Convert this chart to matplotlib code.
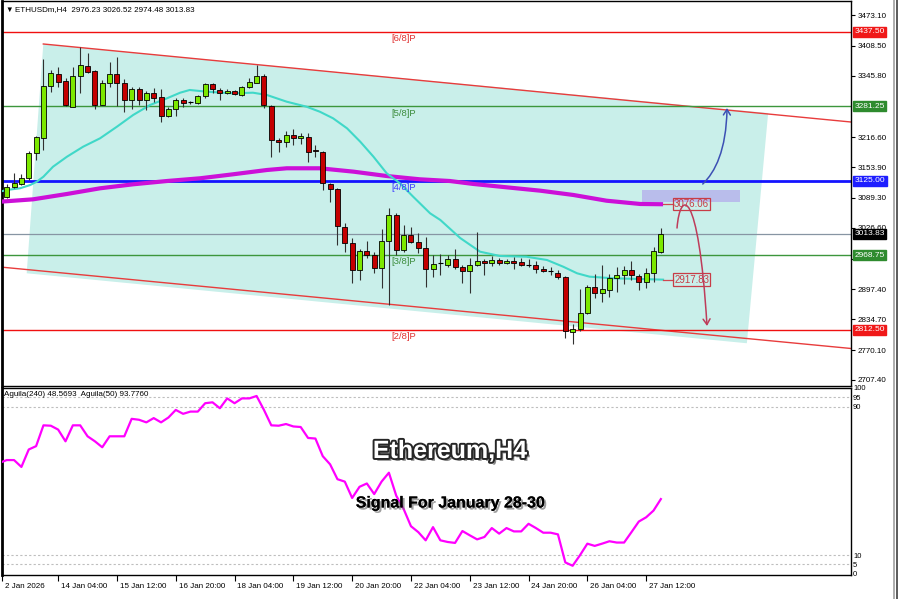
import numpy as np
import matplotlib.pyplot as plt
import matplotlib.patheffects as pe
from matplotlib.path import Path
from matplotlib.patches import Polygon, Rectangle, FancyArrowPatch
from matplotlib.transforms import blended_transform_factory, ScaledTranslation

plt.rcParams['font.family'] = ['Liberation Sans', 'DejaVu Sans']

# ---- H4 candles (ETHUSDm) ----
opens = [3091.9, 3112.9, 3118.6, 3130.5, 3183.0, 3215.7, 3324.2, 3349.3, 3334.6, 3280.7,
         3345.1, 3366.1, 3355.0, 3284.9, 3331.1, 3349.3, 3329.8, 3294.8, 3317.9, 3294.8,
         3308.8, 3300.4, 3261.2, 3275.2, 3294.8, 3290.0, 3289.1, 3303.2, 3328.4, 3315.8,
         3308.8, 3314.3, 3305.3, 3321.4, 3331.1, 3345.1, 3282.8, 3210.9, 3206.0, 3221.4,
         3214.4, 3217.8, 3189.9, 3186.3, 3118.6, 3107.5, 3027.7, 2994.2, 2938.1, 2977.4,
         2969.6, 2941.7, 2999.6, 3053.5, 2980.1, 3011.6, 2997.5, 2983.7, 2939.6, 2952.2,
         2948.6, 2961.2, 2945.1, 2936.7, 2948.6, 2957.6, 2952.2, 2959.1, 2953.5, 2957.0,
         2954.3, 2949.3, 2948.6, 2940.2, 2936.0, 2932.5, 2924.1, 2808.7, 2813.7, 2848.6,
         2901.8, 2889.2, 2896.2, 2920.7, 2927.6, 2938.1, 2925.6, 2913.6, 2932.5, 2976.23]
closes = [3112.9, 3120.0, 3130.5, 3183.0, 3216.5, 3324.2, 3350.8, 3333.2, 3284.3, 3345.1,
          3368.2, 3354.1, 3284.9, 3331.1, 3349.3, 3329.8, 3294.8, 3317.9, 3294.8, 3308.8,
          3299.6, 3261.2, 3275.2, 3294.8, 3287.8, 3290.0, 3303.2, 3327.7, 3317.2, 3308.8,
          3314.3, 3307.4, 3322.7, 3331.9, 3345.8, 3284.3, 3210.9, 3206.0, 3221.4, 3214.4,
          3219.2, 3186.3, 3188.4, 3120.0, 3107.5, 3030.5, 2994.2, 2938.1, 2978.6, 2969.0,
          2941.7, 2999.6, 3053.5, 2980.1, 3011.6, 2997.5, 2983.7, 2939.6, 2950.7, 2952.2,
          2961.2, 2945.1, 2936.7, 2948.6, 2957.6, 2952.2, 2959.1, 2952.2, 2957.6, 2952.2,
          2948.6, 2949.3, 2939.6, 2936.7, 2936.0, 2924.1, 2810.8, 2813.7, 2848.6, 2901.8,
          2889.2, 2897.6, 2920.7, 2927.6, 2938.1, 2927.6, 2913.6, 2932.5, 2978.6, 3013.83]
highs = [3118.6, 3142.3, 3138.9, 3188.4, 3219.2, 3380.2, 3357.7, 3363.4, 3340.3, 3364.6,
         3406.6, 3394.0, 3357.7, 3336.7, 3375.1, 3384.4, 3338.2, 3322.7, 3322.7, 3314.3,
         3319.3, 3317.2, 3279.4, 3298.3, 3298.3, 3293.3, 3305.3, 3329.8, 3329.8, 3319.3,
         3317.2, 3315.8, 3324.2, 3340.3, 3368.2, 3348.7, 3284.3, 3214.4, 3230.4, 3233.3,
         3226.2, 3224.9, 3200.4, 3188.4, 3121.3, 3109.5, 3037.4, 3004.6, 2981.6, 2999.6,
         2976.5, 3023.5, 3067.6, 3057.1, 3032.5, 3029.0, 3016.4, 3008.0, 2969.6, 2971.7,
         2969.6, 2981.6, 2948.6, 2962.7, 3017.2, 2960.5, 2967.5, 2962.7, 2960.5, 2964.8,
         2962.7, 2960.5, 2957.0, 2946.5, 2945.1, 2938.1, 2925.6, 2824.8, 2897.6, 2906.7,
         2929.7, 2948.6, 2929.7, 2943.8, 2946.5, 2957.6, 2929.7, 2941.7, 2985.8, 3026.52]
lows = [3089.2, 3109.5, 3116.4, 3127.0, 3168.9, 3189.9, 3312.2, 3321.4, 3282.2, 3279.4,
        3310.1, 3350.8, 3275.2, 3284.3, 3322.7, 3282.2, 3270.2, 3275.2, 3284.3, 3273.8,
        3291.2, 3249.2, 3258.5, 3261.2, 3279.4, 3286.4, 3286.4, 3298.3, 3310.1, 3294.8,
        3306.7, 3305.3, 3303.2, 3319.3, 3329.8, 3277.4, 3175.8, 3186.3, 3196.8, 3200.4,
        3202.5, 3165.4, 3174.6, 3106.0, 3081.4, 2990.6, 2976.5, 2910.2, 2917.2, 2962.7,
        2932.5, 2899.7, 2864.7, 2969.6, 2976.5, 2994.2, 2974.4, 2901.8, 2922.8, 2927.6,
        2943.8, 2939.6, 2910.2, 2889.2, 2946.5, 2927.6, 2946.5, 2948.6, 2950.7, 2939.6,
        2946.5, 2945.1, 2931.2, 2934.6, 2927.6, 2918.6, 2794.8, 2782.9, 2810.8, 2845.8,
        2878.8, 2871.6, 2882.1, 2892.6, 2908.8, 2917.2, 2896.2, 2899.7, 2913.6, 2974.48]

# moving averages (bar index, price)
ma_fast_x = [-0.9, 0, 1.8, 3.2, 4.1, 5.0, 6.3, 8.2, 10.4, 12.7, 15.0, 17.2, 19.5, 21.8, 23.6,
             24.9, 27.2, 30.8, 33.5, 35.4, 38.1, 40.8, 42.6, 44.4, 46.3, 48.1, 49.9, 51.7,
             53.5, 55.3, 57.6, 59.0, 61.7, 64.4, 67.1, 70.7, 73.5, 75.7, 77.6, 79.3, 82.5,
             86.2, 89.3]
ma_fast = [3102.5, 3106.0, 3109.5, 3116.4, 3123.4, 3133.9, 3154.8, 3175.8, 3196.8, 3214.4,
           3238.8, 3263.3, 3284.3, 3298.3, 3310.1, 3315.8, 3312.2, 3308.8, 3310.1, 3305.3,
           3291.2, 3280.7, 3270.2, 3256.4, 3235.4, 3207.3, 3175.8, 3141.0, 3120.0, 3091.9,
           3057.1, 3043.0, 3005.2, 2976.5, 2967.5, 2966.0, 2959.1, 2945.1, 2931.2, 2924.1,
           2920.7, 2919.2, 2917.83]
ma_slow_x = [-0.9, 3.6, 8.2, 12.7, 17.2, 21.8, 26.3, 30.8, 35.4, 38.1, 42.6, 47.2, 51.7,
             56.2, 60.3, 63.5, 68.0, 72.6, 77.1, 81.6, 86.2, 89.3]
ma_slow = [3081.4, 3086.4, 3097.6, 3109.5, 3117.9, 3124.8, 3130.5, 3138.9, 3147.9, 3151.5,
           3151.5, 3144.4, 3135.3, 3128.4, 3124.8, 3118.6, 3111.6, 3104.5, 3095.5, 3083.5,
           3076.6, 3076.06]

# Murrey levels
levels = [3437.50, 3281.25, 3125.00, 2968.75, 2812.50]
level_names = ['[6/8]P', '[5/8]P', '[4/8]P', '[3/8]P', '[2/8]P']
last_price = 3013.83
price_ticks = [3473.10, 3408.50, 3345.80, 3216.60, 3153.90, 3089.30, 3026.60, 2962.00,
               2897.40, 2834.70, 2770.10, 2707.40]

# Aguila oscillator
aguila_x = [-0.9] + list(range(90))
aguila = [59.8,
          61.2, 61.2, 57.5, 66.9, 68.7, 79.9, 79.7, 77.6, 71.3, 79.9,
          79.9, 74.0, 71.3, 68.1, 74.0, 74.0, 74.0, 83.4, 82.9, 81.5,
          83.8, 81.5, 84.1, 88.2, 86.1, 87.3, 87.3, 91.8, 92.3, 89.1,
          94.4, 91.8, 94.4, 94.4, 95.7, 88.2, 79.9, 79.7, 80.6, 79.3,
          79.0, 73.1, 72.8, 63.3, 58.9, 50.9, 49.6, 40.8, 46.8, 48.6,
          42.9, 49.6, 54.4, 42.0, 34.9, 25.6, 22.4, 18.0, 25.1, 18.0,
          17.1, 16.6, 23.0, 20.7, 18.5, 19.8, 24.6, 21.6, 24.6, 22.8,
          22.8, 26.9, 24.6, 22.1, 22.1, 21.2, 6.1, 4.3, 10.0, 16.2,
          15.0, 16.2, 17.5, 16.8, 16.8, 22.4, 28.1, 30.4, 34.0, 40.2]
osc_levels = [95, 90, 10, 5]

date_pos = [-0.64, 7, 15, 23, 31, 39, 47, 55, 63, 71, 79, 87]
date_labels = ['2 Jan 2026', '14 Jan 04:00', '15 Jan 12:00', '16 Jan 20:00', '18 Jan 04:00',
               '19 Jan 12:00', '20 Jan 20:00', '22 Jan 04:00', '23 Jan 12:00', '24 Jan 20:00',
               '26 Jan 04:00', '27 Jan 12:00']

W, H = 900, 599
fig = plt.figure(figsize=(9, 5.99), dpi=100)
fig.patch.set_facecolor('white')


def box(x0, y0, x1, y1):
    return [x0 / W, 1 - y1 / H, (x1 - x0) / W, (y1 - y0) / H]


ax = fig.add_axes(box(2, 1, 851, 386))
ax2 = fig.add_axes(box(2, 388, 851, 575), sharex=ax)
ax.set_xlim(-0.64, 114.87)
ax.set_ylim(2694.7, 3502.5)
ax2.set_ylim(-0.67, 99.07)

for a in (ax, ax2):
    for s in a.spines.values():
        s.set_color('black')
        s.set_linewidth(1.0)
    a.spines['left'].set_linewidth(2.0)

# channel shading + channel lines
ax.add_patch(Polygon([(4.98, 3412.3), (103.6, 3267.5), (100.7, 2784.4), (2.72, 2931.2)],
                     closed=True, fc='#C9EFEA', ec='none', zorder=1))
ax.plot([4.98, 114.87], [3412.3, 3248.6], color='#E83C3C', lw=1, zorder=2)
ax.plot([-0.9, 114.87], [2944.4, 2773.4], color='#E83C3C', lw=1, zorder=2)

# murrey lines
line_cols = ['#F01010', '#3C963C', '#1414FF', '#3C963C', '#F01010']
text_cols = ['#E03030', '#3C8C3C', '#3C3CFF', '#3C8C3C', '#E03030']
box_cols = ['#F01818', '#2E8B2E', '#1E1EFF', '#2E8B2E', '#F01818']
for lv, nm, lc, tc in zip(levels, level_names, line_cols, text_cols):
    ax.axhline(lv, color=lc, lw=2 if nm == '[4/8]P' else 1, zorder=2)
    ax.annotate(nm, xy=(52.4, lv), xytext=(0, -1.5), textcoords='offset points',
                fontsize=6.8, color=tc, va='top', ha='left', zorder=6)
ax.axhline(last_price, color='#8795A3', lw=0.9, zorder=2)

# lavender zone
ax.add_patch(Rectangle((86.4, 3081.4), 13.3, 24.6, fc='#B8B8EC', ec='none', alpha=0.9, zorder=2))

# moving averages
ax.plot(ma_slow_x, ma_slow, color='#CC10D8', lw=3.0, zorder=3, solid_capstyle='butt')
ax.plot(ma_fast_x, ma_fast, color='#40D8C8', lw=1.5, zorder=3)

# candles
idx = np.arange(len(opens))
o = np.array(opens)
c = np.array(closes)
up = c > o
dn = c < o
fl = c == o
ax.vlines(idx, lows, highs, color='#303030', lw=0.8, zorder=4)
ax.bar(idx[up], (c - o)[up], bottom=o[up], width=0.68, color='#7CE800',
       edgecolor='black', lw=0.6, zorder=5)
ax.bar(idx[dn], (o - c)[dn], bottom=c[dn], width=0.68, color='#C40000',
       edgecolor='black', lw=0.6, zorder=5)
ax.hlines(o[fl], idx[fl] - 0.34, idx[fl] + 0.34, color='black', lw=0.8, zorder=5)

# MA value tags
for val in (ma_slow[-1], ma_fast[-1]):
    ax.plot([89.3, 90.7], [val, val], color='#D04650', lw=0.9, zorder=3)
    ax.text(90.8, val, f'{val:.2f}', fontsize=7, color='#C83C46', va='center', ha='left',
            zorder=6, bbox=dict(boxstyle='square,pad=0.12', fc='none', ec='#C83C46', lw=0.9))

# forecast arrows
blue = Path([(94.7, 3118.5), (96.4, 3143.7), (97.9, 3189.9), (98.0, 3278.0)],
            [Path.MOVETO, Path.CURVE4, Path.CURVE4, Path.CURVE4])
ax.add_patch(FancyArrowPatch(path=blue, arrowstyle='->,head_length=4,head_width=2.5',
                             color='#3C50B4', lw=1.1, transform=ax.transData, zorder=7))
red = Path([(91.2, 3026.2), (91.6, 3106.0), (94.1, 3116.4), (95.28, 2820.6)],
           [Path.MOVETO, Path.CURVE4, Path.CURVE4, Path.CURVE4])
ax.add_patch(FancyArrowPatch(path=red, arrowstyle='->,head_length=4,head_width=2.5',
                             color='#BE3C5A', lw=1.1, transform=ax.transData, zorder=7))

# right price scale
ax.yaxis.tick_right()
ax.set_yticks(price_ticks)
ax.set_yticklabels([f'{p:.2f}' for p in price_ticks])
ax.tick_params(axis='y', labelsize=5.8, length=3, width=0.8, pad=1.5, colors='black')
ax.tick_params(axis='x', bottom=False, labelbottom=False)
trans = blended_transform_factory(ax.transAxes, ax.transData)
for lv, bc in zip(levels, box_cols):
    ax.text(1.004, lv, f'{lv:.2f}', transform=trans, fontsize=6, color='white', ha='left',
            va='center', clip_on=False, zorder=10,
            bbox=dict(boxstyle='square,pad=0.18', fc=bc, ec=bc))
ax.text(1.004, last_price, f'{last_price:.2f}', transform=trans, fontsize=6, color='white',
        ha='left', va='center', clip_on=False, zorder=10,
        bbox=dict(boxstyle='square,pad=0.18', fc='black', ec='black'))

ax.text(0.004, 0.985, '\u25bc', transform=ax.transAxes, fontsize=5.5, va='top', ha='left')
ax.text(0.015, 0.987, 'ETHUSDm,H4  2976.23 3026.52 2974.48 3013.83', transform=ax.transAxes,
        fontsize=5.8, va='top', ha='left')

# oscillator
for lv in osc_levels:
    ax2.axhline(lv, color='#BEBEBE', lw=0.8, ls=(0, (2, 2)), zorder=1)
ax2.plot(aguila_x, aguila, color='#FF00FF', lw=1.6, zorder=3)
ax2.yaxis.tick_right()
ax2.set_yticks([100, 95, 90, 10, 5, 0])
ax2.set_yticklabels(['100', '95', '90', '10', '5', '0'])
ax2.tick_params(axis='y', labelsize=5.5, length=0, pad=1.5)
ax2.text(0.002, 0.985, 'Aguila(240) 48.5693  Aguila(50) 93.7760', transform=ax2.transAxes,
         fontsize=5.8, va='top', ha='left')

ax2.set_xticks(date_pos)
ax2.set_xticklabels(date_labels)
ax2.tick_params(axis='x', labelsize=5.8, length=4, width=0.8, pad=1.5, direction='out')
shift = ScaledTranslation(2 / 72, 0, fig.dpi_scale_trans)
for lb in ax2.get_xticklabels():
    lb.set_horizontalalignment('left')
    lb.set_transform(lb.get_transform() + shift)

# headline texts
fig.text(450 / W, 1 - 451 / H, 'Ethereum,H4', fontsize=18, fontweight='bold', color='white',
         ha='center', va='center', zorder=20,
         path_effects=[pe.withSimplePatchShadow(offset=(2, -2), shadow_rgbFace='#555555', alpha=0.7),
                       pe.Stroke(linewidth=2.8, foreground='#262626'), pe.Normal()])
fig.text(451 / W, 1 - 503 / H, 'Signal For January 28-30', fontsize=11.5, fontweight='bold',
         color='black', ha='center', va='center', zorder=20,
         path_effects=[pe.withSimplePatchShadow(offset=(1.5, -1.5), shadow_rgbFace='#777777', alpha=0.7),
                       pe.Normal()])

# neighbouring window edge on the far right
fig.add_artist(plt.Line2D([894 / W, 894 / W], [0, 1], color='#A0A0A0', lw=1.2))
fig.add_artist(plt.Line2D([897 / W, 897 / W], [0, 1], color='#404040', lw=1.2))

fig.savefig('out.png', dpi=100)
